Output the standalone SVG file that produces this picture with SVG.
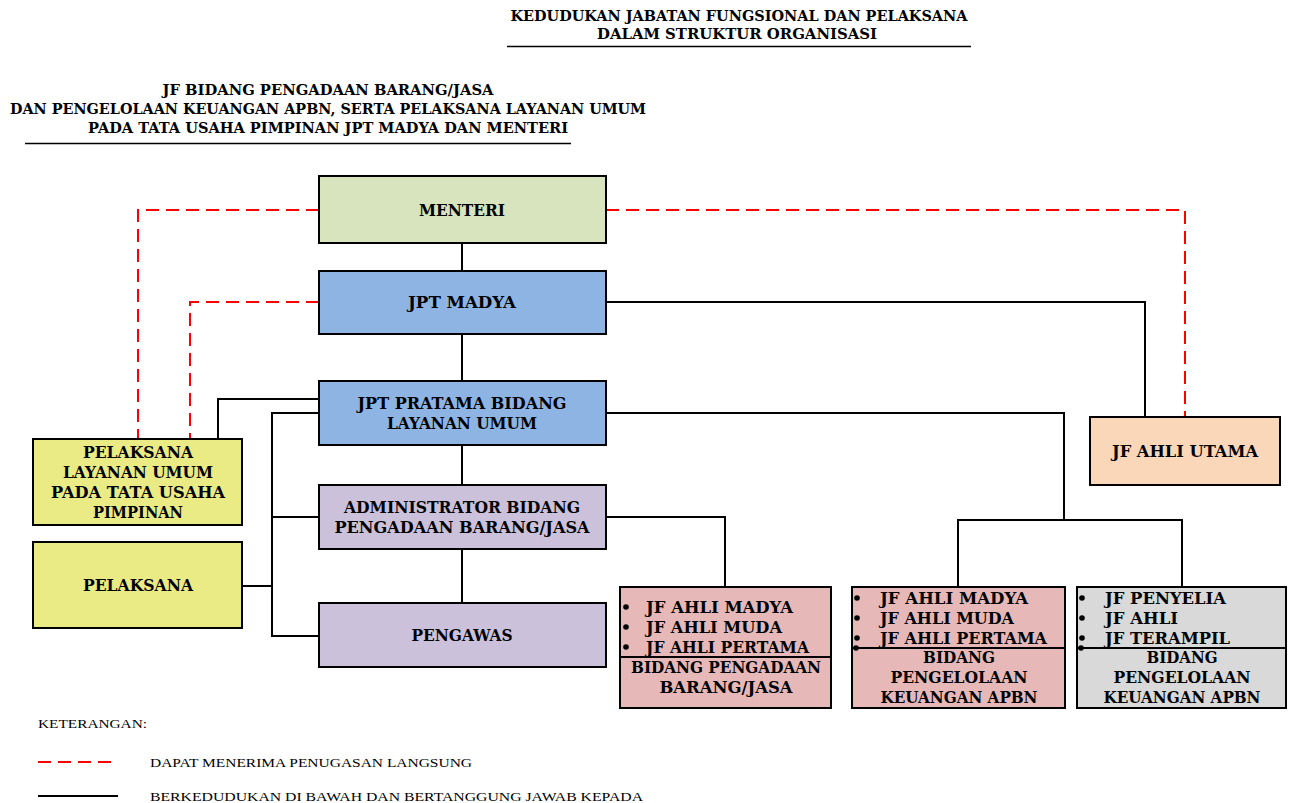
<svg xmlns="http://www.w3.org/2000/svg" width="1291" height="803" viewBox="0 0 1291 803">
<style>
.b{font-family:"DejaVu Serif","Liberation Serif",serif;font-weight:bold;font-size:16px;fill:#000}
.t{font-family:"DejaVu Serif","Liberation Serif",serif;font-weight:bold;font-size:14px;fill:#000}
.l{font-family:"Liberation Serif","DejaVu Serif",serif;font-size:13px;fill:#000}
.box{stroke:#000;stroke-width:2}
.c{fill:none;stroke:#000;stroke-width:2}
.d{fill:none;stroke:#FF0000;stroke-width:2;stroke-dasharray:13 7}
</style>
<rect width="1291" height="803" fill="#fff"/>
<g id="title">
<text class="t" x="739" y="21" text-anchor="middle" textLength="457" lengthAdjust="spacingAndGlyphs">KEDUDUKAN JABATAN FUNGSIONAL DAN PELAKSANA</text>
<text class="t" x="737" y="39" text-anchor="middle" textLength="280" lengthAdjust="spacingAndGlyphs">DALAM STRUKTUR ORGANISASI</text>
<line x1="507" y1="46.5" x2="971" y2="46.5" stroke="#000" stroke-width="1.5"/>
<text class="t" x="328" y="95" text-anchor="middle" textLength="331" lengthAdjust="spacingAndGlyphs">JF BIDANG PENGADAAN BARANG/JASA</text>
<text class="t" x="328" y="114" text-anchor="middle" textLength="636" lengthAdjust="spacingAndGlyphs">DAN PENGELOLAAN KEUANGAN APBN, SERTA PELAKSANA LAYANAN UMUM</text>
<text class="t" x="328" y="133" text-anchor="middle" textLength="480" lengthAdjust="spacingAndGlyphs">PADA TATA USAHA PIMPINAN JPT MADYA DAN MENTERI</text>
<line x1="25" y1="143.5" x2="571" y2="143.5" stroke="#000" stroke-width="1.5"/>
</g>
<g id="connectors">
<line class="c" x1="462" y1="243" x2="462" y2="271"/>
<line class="c" x1="462" y1="334" x2="462" y2="381"/>
<line class="c" x1="462" y1="445" x2="462" y2="485"/>
<line class="c" x1="462" y1="549" x2="462" y2="603"/>
<polyline class="c" points="606,302 1145,302 1145,417"/>
<polyline class="c" points="606,413 1064,413 1064,520"/>
<polyline class="c" points="958,587 958,520 1182,520 1182,587"/>
<polyline class="c" points="606,517 725,517 725,587"/>
<polyline class="c" points="218,438 218,399 319,399"/>
<polyline class="c" points="319,413 272,413 272,636 319,636"/>
<line class="c" x1="272" y1="517" x2="319" y2="517"/>
<line class="c" x1="242" y1="586" x2="272" y2="586"/>
<polyline class="d" points="319,210 138,210 138,438"/>
<polyline class="d" points="319,302 190,302 190,438"/>
<polyline class="d" points="606,210 1185,210 1185,417"/>
</g>
<g id="menteri">
<rect class="box" x="319" y="176" width="287" height="67" fill="#D7E4BD"/>
<text class="b" x="462" y="216" text-anchor="middle" textLength="86" lengthAdjust="spacingAndGlyphs">MENTERI</text>
</g>
<g id="jpt-madya">
<rect class="box" x="319" y="271" width="287" height="63" fill="#8EB4E3"/>
<text class="b" x="462" y="308" text-anchor="middle" textLength="108" lengthAdjust="spacingAndGlyphs">JPT MADYA</text>
</g>
<g id="jpt-pratama">
<rect class="box" x="319" y="381" width="287" height="64" fill="#8EB4E3"/>
<text class="b" x="462" y="409" text-anchor="middle" textLength="209" lengthAdjust="spacingAndGlyphs">JPT PRATAMA BIDANG</text>
<text class="b" x="462" y="429" text-anchor="middle" textLength="150" lengthAdjust="spacingAndGlyphs">LAYANAN UMUM</text>
</g>
<g id="administrator">
<rect class="box" x="319" y="485" width="287" height="64" fill="#CCC1DA"/>
<text class="b" x="462" y="513" text-anchor="middle" textLength="236" lengthAdjust="spacingAndGlyphs">ADMINISTRATOR BIDANG</text>
<text class="b" x="462" y="533" text-anchor="middle" textLength="255" lengthAdjust="spacingAndGlyphs">PENGADAAN BARANG/JASA</text>
</g>
<g id="pengawas">
<rect class="box" x="319" y="603" width="287" height="64" fill="#CCC1DA"/>
<text class="b" x="462" y="641" text-anchor="middle" textLength="101" lengthAdjust="spacingAndGlyphs">PENGAWAS</text>
</g>
<g id="pelaksana-lu">
<rect class="box" x="33" y="439" width="209" height="86" fill="#EBEB85"/>
<text class="b" x="138" y="458" text-anchor="middle" textLength="110" lengthAdjust="spacingAndGlyphs">PELAKSANA</text>
<text class="b" x="138" y="478" text-anchor="middle" textLength="150" lengthAdjust="spacingAndGlyphs">LAYANAN UMUM</text>
<text class="b" x="138" y="498" text-anchor="middle" textLength="174" lengthAdjust="spacingAndGlyphs">PADA TATA USAHA</text>
<text class="b" x="138" y="518" text-anchor="middle" textLength="90" lengthAdjust="spacingAndGlyphs">PIMPINAN</text>
</g>
<g id="pelaksana">
<rect class="box" x="33" y="542" width="209" height="86" fill="#EBEB85"/>
<text class="b" x="138" y="591" text-anchor="middle" textLength="110" lengthAdjust="spacingAndGlyphs">PELAKSANA</text>
</g>
<g id="jf-ahli-utama">
<rect class="box" x="1090" y="417" width="190" height="68" fill="#FBD7B9"/>
<text class="b" x="1185" y="457" text-anchor="middle" textLength="146" lengthAdjust="spacingAndGlyphs">JF AHLI UTAMA</text>
</g>
<g id="jf-pengadaan">
<rect class="box" x="620" y="587" width="211" height="121" fill="#E6B9B8"/>
<line x1="620" y1="657" x2="831" y2="657" stroke="#000" stroke-width="2"/>
<circle cx="626" cy="607" r="2.8"/><circle cx="626" cy="627" r="2.8"/><circle cx="626" cy="647" r="2.8"/>
<text class="b" x="646" y="613" textLength="147" lengthAdjust="spacingAndGlyphs">JF AHLI MADYA</text>
<text class="b" x="646" y="633" textLength="136" lengthAdjust="spacingAndGlyphs">JF AHLI MUDA</text>
<text class="b" x="646" y="653" textLength="163" lengthAdjust="spacingAndGlyphs">JF AHLI PERTAMA</text>
<text class="b" x="726" y="673" text-anchor="middle" textLength="190" lengthAdjust="spacingAndGlyphs">BIDANG PENGADAAN</text>
<text class="b" x="726" y="693" text-anchor="middle" textLength="133" lengthAdjust="spacingAndGlyphs">BARANG/JASA</text>
</g>
<g id="jf-keuangan-ahli">
<rect class="box" x="852" y="587" width="213" height="121" fill="#E6B9B8"/>
<line x1="852" y1="648" x2="1065" y2="648" stroke="#000" stroke-width="2"/>
<circle cx="857" cy="598" r="2.8"/><circle cx="857" cy="618" r="2.8"/><circle cx="857" cy="638" r="2.8"/><circle cx="856" cy="648" r="2.8"/>
<text class="b" x="880" y="604" textLength="148" lengthAdjust="spacingAndGlyphs">JF AHLI MADYA</text>
<text class="b" x="880" y="624" textLength="134" lengthAdjust="spacingAndGlyphs">JF AHLI MUDA</text>
<text class="b" x="880" y="644" textLength="167" lengthAdjust="spacingAndGlyphs">JF AHLI PERTAMA</text>
<text class="b" x="959" y="663" text-anchor="middle" textLength="72" lengthAdjust="spacingAndGlyphs">BIDANG</text>
<text class="b" x="959" y="683" text-anchor="middle" textLength="137" lengthAdjust="spacingAndGlyphs">PENGELOLAAN</text>
<text class="b" x="959" y="703" text-anchor="middle" textLength="157" lengthAdjust="spacingAndGlyphs">KEUANGAN APBN</text>
</g>
<g id="jf-keuangan-terampil">
<rect class="box" x="1077" y="587" width="209" height="121" fill="#D9D9D9"/>
<line x1="1077" y1="648" x2="1286" y2="648" stroke="#000" stroke-width="2"/>
<circle cx="1082" cy="598" r="2.8"/><circle cx="1082" cy="618" r="2.8"/><circle cx="1082" cy="638" r="2.8"/><circle cx="1081" cy="648" r="2.8"/>
<text class="b" x="1105" y="604" textLength="121" lengthAdjust="spacingAndGlyphs">JF PENYELIA</text>
<text class="b" x="1105" y="624" textLength="73" lengthAdjust="spacingAndGlyphs">JF AHLI</text>
<text class="b" x="1105" y="644" textLength="125" lengthAdjust="spacingAndGlyphs">JF TERAMPIL</text>
<text class="b" x="1182" y="663" text-anchor="middle" textLength="71" lengthAdjust="spacingAndGlyphs">BIDANG</text>
<text class="b" x="1182" y="683" text-anchor="middle" textLength="137" lengthAdjust="spacingAndGlyphs">PENGELOLAAN</text>
<text class="b" x="1182" y="703" text-anchor="middle" textLength="157" lengthAdjust="spacingAndGlyphs">KEUANGAN APBN</text>
</g>
<g id="legend">
<text class="l" x="38" y="728" textLength="109" lengthAdjust="spacingAndGlyphs">KETERANGAN:</text>
<line x1="38" y1="762" x2="118" y2="762" stroke="#FF0000" stroke-width="2" stroke-dasharray="13 7"/>
<text class="l" x="150" y="767" textLength="322" lengthAdjust="spacingAndGlyphs">DAPAT MENERIMA PENUGASAN LANGSUNG</text>
<line x1="38" y1="796" x2="118" y2="796" stroke="#000" stroke-width="2"/>
<text class="l" x="150" y="801" textLength="493" lengthAdjust="spacingAndGlyphs">BERKEDUDUKAN DI BAWAH DAN BERTANGGUNG JAWAB KEPADA</text>
</g>
</svg>
